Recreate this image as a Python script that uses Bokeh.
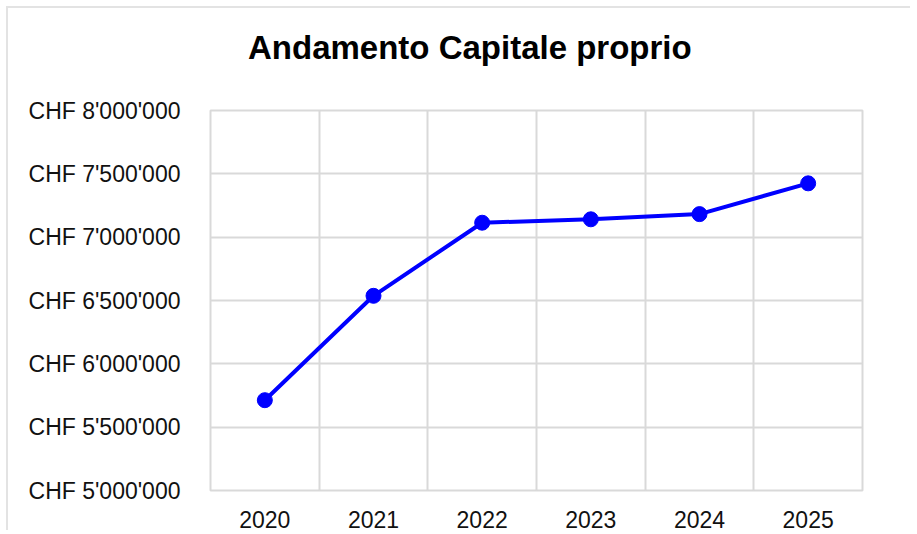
from bokeh.plotting import figure
from bokeh.layouts import column
from bokeh.models import FactorRange, Range1d, FixedTicker, CustomJSTickFormatter, Div
from bokeh.embed import file_html
from bokeh.resources import INLINE

title_text = "Andamento Capitale proprio"
years = ["2020", "2021", "2022", "2023", "2024", "2025"]
capitale = [5713000, 6537000, 7114000, 7141000, 7182000, 7425000]
y_ticks = [5000000, 5500000, 6000000, 6500000, 7000000, 7500000, 8000000]

title_div = Div(
    text=('<div style="font-family: \'Liberation Sans\', Arial, sans-serif; font-size: 33px; '
          'font-weight: bold; color: #000; line-height: 80px; white-space: nowrap; '
          'padding-left: 240px;">' + title_text + '</div>'),
    width=902, height=70, margin=0,
)

p = figure(
    x_range=FactorRange(*years),
    y_range=Range1d(5000000, 8000000),
    frame_width=652, frame_height=380,
    min_border_left=202, min_border_right=40, min_border_top=32, min_border_bottom=36,
    output_backend="svg", toolbar_location=None, margin=0,
)

p.line(years, capitale, line_color="#0000FF", line_width=4)
p.scatter(years, capitale, size=15, fill_color="#0000FF", line_color="#0000FF")

p.yaxis.ticker = FixedTicker(ticks=y_ticks)
p.yaxis.formatter = CustomJSTickFormatter(code="""
const s = Math.round(tick).toString().replace(/\\B(?=(\\d{3})+(?!\\d))/g, "'");
return "CHF " + s;
""")
p.xgrid.ticker = FixedTicker(ticks=[0, 1, 2, 3, 4, 5, 6])
p.ygrid.ticker = FixedTicker(ticks=y_ticks)
for g in (p.xgrid, p.ygrid):
    g.grid_line_color = "#d9d9d9"
    g.grid_line_width = 2

for ax in (p.xaxis, p.yaxis):
    ax.axis_line_color = None
    ax.major_tick_line_color = None
    ax.minor_tick_line_color = None
    ax.major_label_text_font = "Liberation Sans"
    ax.major_label_text_font_size = "23px"
    ax.major_label_text_color = "#111111"
p.yaxis.major_label_standoff = 24
p.xaxis.major_label_standoff = 14

p.outline_line_color = "#d9d9d9"
p.outline_line_width = 2
p.background_fill_color = "white"
p.border_fill_color = "white"

layout = column(title_div, p, spacing=0)
layout.styles = {"margin-left": "6px", "margin-top": "6px",
                 "border-left": "2px solid #e3e3e3", "border-top": "2px solid #e3e3e3"}

open("out.html", "w").write(file_html(layout, INLINE))
